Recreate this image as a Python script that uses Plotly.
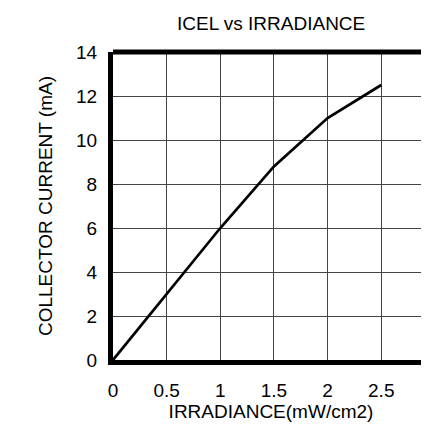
import plotly.graph_objects as go

irradiance = [0, 0.5, 1.0, 1.5, 2.0, 2.5]
collector_current = [0, 3.0, 6.0, 8.8, 11.0, 12.5]
x_ticks = [0, 0.5, 1, 1.5, 2, 2.5]
x_tick_labels = ["0", "0.5", "1", "1.5", "2", "2.5"]
y_ticks = [0, 2, 4, 6, 8, 10, 12, 14]

FONT = "Liberation Sans, Arial, sans-serif"

fig = go.Figure()
fig.add_trace(go.Scatter(x=irradiance, y=collector_current, mode="lines",
                         line=dict(color="black", width=2.7), showlegend=False))

fig.update_layout(
    width=421, height=414,
    margin=dict(l=105, r=0, t=44, b=62, autoexpand=False),
    paper_bgcolor="white", plot_bgcolor="white",
    font=dict(family=FONT, size=19, color="black"),
    title=dict(text="ICEL vs IRRADIANCE", x=0.625, xanchor="center", y=0.962, yanchor="middle",
               font=dict(size=19, color="black", family=FONT)),
    xaxis=dict(range=[0, 2.945], tickvals=x_ticks, ticktext=x_tick_labels,
               showgrid=True, gridcolor="#444", gridwidth=1, zeroline=False,
               showline=True, linecolor="black", linewidth=5, mirror=False,
               ticks="", ticklabelstandoff=9, automargin=False,
               title=dict(text="IRRADIANCE(mW/cm2)", standoff=5, font=dict(size=19))),
    yaxis=dict(range=[0, 14], tickvals=y_ticks,
               showgrid=True, gridcolor="#444", gridwidth=1, zeroline=False,
               showline=True, linecolor="black", linewidth=5, mirror=False,
               ticks="", ticklabelstandoff=7, automargin=False,
               title=dict(text="COLLECTOR CURRENT (mA)", standoff=20, font=dict(size=19))),
    shapes=[dict(type="line", xref="paper", yref="paper", x0=0, x1=1, y0=1, y1=1,
                 line=dict(color="black", width=5))],
)

fig.write_html("out.html")
